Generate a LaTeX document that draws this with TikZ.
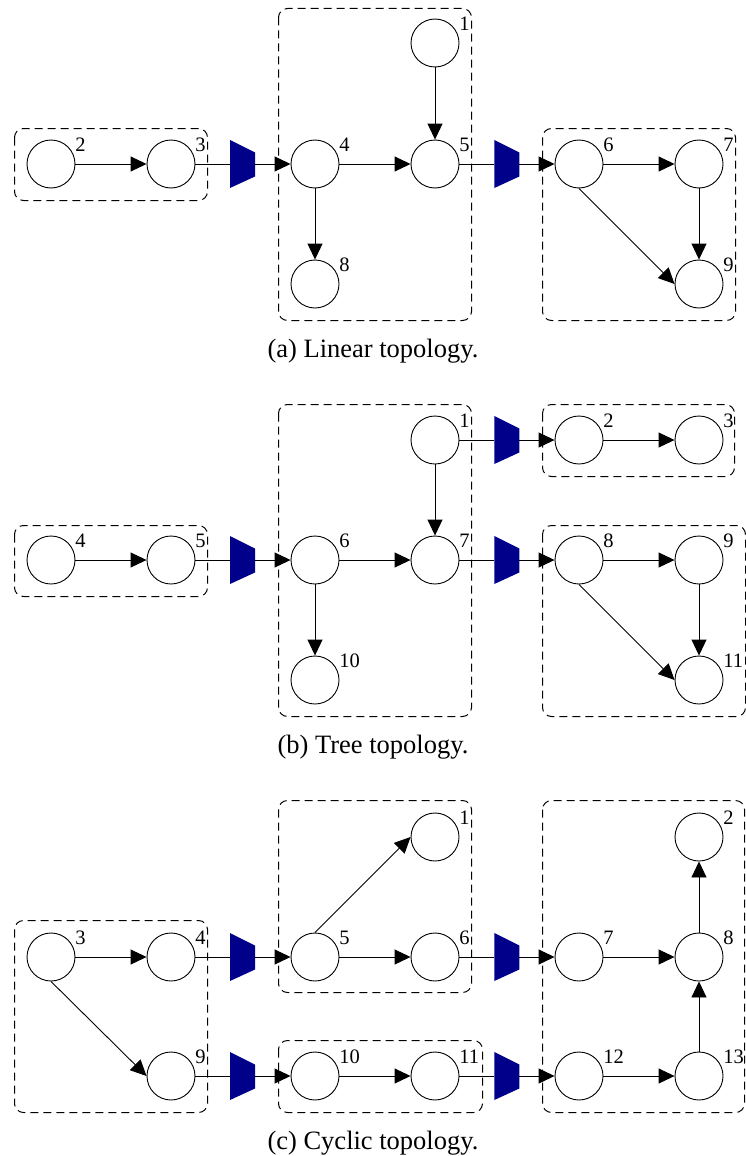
\documentclass[tikz,border=0pt]{standalone}
\usepackage{fontspec}
\setmainfont{Liberation Serif}
\usetikzlibrary{arrows.meta}
\definecolor{trapblue}{RGB}{0,0,139}
\tikzset{
  lab/.style={anchor=south west, inner sep=0pt, xshift=7pt, yshift=-5pt, font=\fontsize{20.5}{24}\selectfont},
  nd/.style={circle, draw, line width=0.9pt, minimum size=48pt, inner sep=0pt, label={[lab]45:#1}},
  plainline/.style={line width=0.9pt},
  arr/.style={line width=0.9pt, -{Triangle[length=16pt,width=15pt]}},
  grp/.style={draw, line width=1pt, dash pattern=on 8pt off 5pt, rounded corners=9pt, xshift=0.5pt, yshift=-0.5pt},
  captext/.style={anchor=base, inner sep=0pt, font=\fontsize{26.5}{30}\selectfont},
  pics/trap/.style={code={
    \fill[trapblue] (-12.5,-24) -- (12.5,-11.5) -- (12.5,12.5) -- (-12.5,24) -- cycle;
    \coordinate (-in) at (-12.5,0);
    \coordinate (-out) at (12.5,0);
  }}
}
\begin{document}
\begin{tikzpicture}[x=1pt,y=-1pt]
\useasboundingbox (0,0) rectangle (746,1156);

% ---------------- (a) Linear topology ----------------
\draw[grp] (14,128) rectangle (207,200);
\draw[grp] (278,8) rectangle (471,320);
\draw[grp] (542,128) rectangle (735,320);

\node[nd=2] (a2) at (51,164) {};
\node[nd=3] (a3) at (171,164) {};
\node[nd=4] (a4) at (315,164) {};
\node[nd=8] (a8) at (315,284) {};
\node[nd=1] (a1) at (435,43) {};
\node[nd=5] (a5) at (435,164) {};
\node[nd=6] (a6) at (579,164) {};
\node[nd=7] (a7) at (699,164) {};
\node[nd=9] (a9) at (699,284) {};
\pic (ta1) at (242.5,164) {trap};
\pic (ta2) at (506.8,164) {trap};

\draw[arr] (a2) -- (a3);
\draw[plainline] (a3) -- (ta1-in);
\draw[arr] (ta1-out) -- (a4);
\draw[arr] (a4) -- (a5);
\draw[arr] (a4) -- (a8);
\draw[arr] (a1) -- (a5);
\draw[plainline] (a5) -- (ta2-in);
\draw[arr] (ta2-out) -- (a6);
\draw[arr] (a6) -- (a7);
\draw[arr] (a7) -- (a9);
\draw[arr] (a6.south) -- (a9.west);

\node[captext] (capa) at (373,357) {(a) Linear topology.};

% ---------------- (b) Tree topology ----------------
\draw[grp] (14,525) rectangle (207,596);
\draw[grp] (278,404) rectangle (471,716);
\draw[grp] (542,404) rectangle (734,476);
\draw[grp] (542,525) rectangle (745,716);

\node[nd=1] (b1) at (435,440) {};
\node[nd=2] (b2) at (579,440) {};
\node[nd=3] (b3) at (699,440) {};
\node[nd=4] (b4) at (51,560) {};
\node[nd=5] (b5) at (171,560) {};
\node[nd=6] (b6) at (315,560) {};
\node[nd=7] (b7) at (435,560) {};
\node[nd=8] (b8) at (579,560) {};
\node[nd=9] (b9) at (699,560) {};
\node[nd=10] (b10) at (315,680) {};
\node[nd=11] (b11) at (699,680) {};
\pic (tb1) at (242.5,560) {trap};
\pic (tb2) at (506.8,440) {trap};
\pic (tb3) at (506.8,560) {trap};

\draw[arr] (b4) -- (b5);
\draw[plainline] (b5) -- (tb1-in);
\draw[arr] (tb1-out) -- (b6);
\draw[arr] (b6) -- (b7);
\draw[arr] (b6) -- (b10);
\draw[arr] (b1) -- (b7);
\draw[plainline] (b1) -- (tb2-in);
\draw[arr] (tb2-out) -- (b2);
\draw[arr] (b2) -- (b3);
\draw[plainline] (b7) -- (tb3-in);
\draw[arr] (tb3-out) -- (b8);
\draw[arr] (b8) -- (b9);
\draw[arr] (b9) -- (b11);
\draw[arr] (b8.south) -- (b11.west);

\node[captext] (capb) at (373,753) {(b) Tree topology.};

% ---------------- (c) Cyclic topology ----------------
\draw[grp] (14,920) rectangle (207,1112);
\draw[grp] (278,800) rectangle (471,992);
\draw[grp] (278,1040) rectangle (482,1112);
\draw[grp] (542,800) rectangle (744,1112);

\node[nd=1] (c1) at (435,837) {};
\node[nd=2] (c2) at (699,837) {};
\node[nd=3] (c3) at (51,957) {};
\node[nd=4] (c4) at (171,957) {};
\node[nd=5] (c5) at (315,957) {};
\node[nd=6] (c6) at (435,957) {};
\node[nd=7] (c7) at (579,957) {};
\node[nd=8] (c8) at (699,957) {};
\node[nd=9] (c9) at (171,1076) {};
\node[nd=10] (c10) at (315,1076) {};
\node[nd=11] (c11) at (435,1076) {};
\node[nd=12] (c12) at (579,1076) {};
\node[nd=13] (c13) at (699,1076) {};
\pic (tc1) at (242.5,957) {trap};
\pic (tc2) at (506.8,957) {trap};
\pic (tc3) at (242.5,1076) {trap};
\pic (tc4) at (506.8,1076) {trap};

\draw[arr] (c3) -- (c4);
\draw[arr] (c3.south) -- (c9.west);
\draw[plainline] (c4) -- (tc1-in);
\draw[arr] (tc1-out) -- (c5);
\draw[arr] (c5) -- (c6);
\draw[arr] (c5.north) -- (c1.west);
\draw[plainline] (c6) -- (tc2-in);
\draw[arr] (tc2-out) -- (c7);
\draw[arr] (c7) -- (c8);
\draw[arr] (c8) -- (c2);
\draw[plainline] (c9) -- (tc3-in);
\draw[arr] (tc3-out) -- (c10);
\draw[arr] (c10) -- (c11);
\draw[plainline] (c11) -- (tc4-in);
\draw[arr] (tc4-out) -- (c12);
\draw[arr] (c12) -- (c13);
\draw[arr] (c13) -- (c8);

\node[captext] (capc) at (373,1149) {(c) Cyclic topology.};
\end{tikzpicture}
\end{document}
